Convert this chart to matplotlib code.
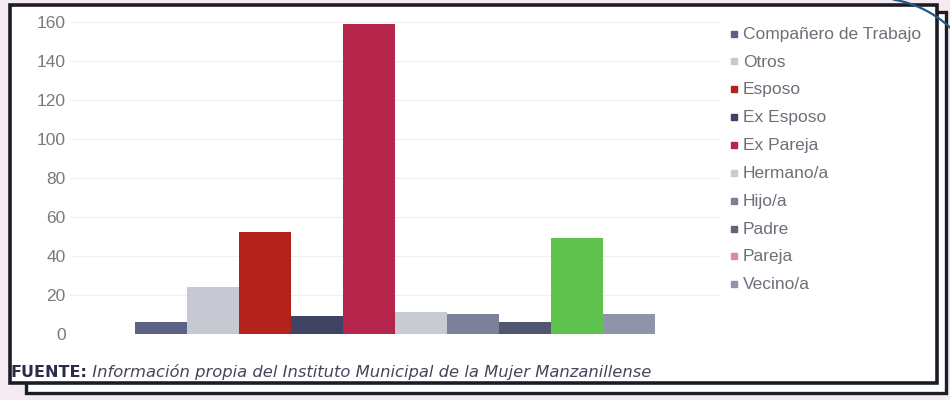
import matplotlib.pyplot as plt
from matplotlib.patches import Rectangle
from matplotlib.lines import Line2D
import numpy as np

# datos: agresor y numero de casos
categorias = ['Compañero de Trabajo', 'Otros', 'Esposo', 'Ex Esposo', 'Ex Pareja',
              'Hermano/a', 'Hijo/a', 'Padre', 'Pareja', 'Vecino/a']
casos = [6, 24, 52, 9, 159, 11, 10, 6, 49, 10]
colores = ['#5b6283', '#c6c9d2', '#b3221b', '#3f4464', '#b6254b',
           '#c9cbd4', '#7b8199', '#50566f', '#5fc24c', '#8e94a9']
# la leyenda original muestra Pareja en rosa
colores_leyenda = ['#5b6283', '#c6c9d2', '#b3221b', '#3f4464', '#b6254b',
                   '#c9cbd4', '#7b8199', '#5f6479', '#d98aa6', '#8e94a9']
yticks = [0, 20, 40, 60, 80, 100, 120, 140, 160]
fuente = 'FUENTE:'
fuente_txt = ' Información propia del Instituto Municipal de la Mujer Manzanillense'

W, H = 950, 400
fig = plt.figure(figsize=(W / 100, H / 100), dpi=100, facecolor='#f4eaef')

def fx(x):
    return x / W

def fy(y):
    return 1 - y / H

# marcos (sombra y principal)
shadow = Rectangle((fx(26), fy(393)), fx(946) - fx(26), fy(12) - fy(393),
                   transform=fig.transFigure, facecolor='white', edgecolor='#1c1c26',
                   linewidth=2.4, zorder=0)
main = Rectangle((fx(10), fy(383)), fx(937) - fx(10), fy(5) - fy(383),
                 transform=fig.transFigure, facecolor='white', edgecolor='#1c1c26',
                 linewidth=2.6, zorder=1)
fig.add_artist(shadow)
fig.add_artist(main)

# trazo azul del escaneo (esquina superior derecha)
t = np.linspace(np.radians(40), np.radians(80), 40)
arc = Line2D(fx(875 + 110 * np.cos(t)), fy(108 - 110 * np.sin(t)),
             transform=fig.transFigure, color='#1d5a8a', linewidth=1.6, zorder=2)
fig.add_artist(arc)

ax = fig.add_axes([fx(70), fy(333.5), fx(720) - fx(70), fy(22) - fy(333.5)])
ax.set_facecolor('none')
ax.set_zorder(3)

n = len(categorias)
ancho = 0.8 / n
for i, (c, v, col) in enumerate(zip(categorias, casos, colores)):
    ax.bar((i - (n - 1) / 2) * ancho, v, width=ancho, color=col, label=c, zorder=3)

ax.set_xlim(-0.5, 0.5)
ax.set_ylim(0, 160)
ax.set_yticks(yticks)
ax.set_xticks([])
ax.tick_params(axis='y', length=0, pad=3, labelsize=12.5, labelcolor='#7a7a7a')
for lab in ax.get_yticklabels():
    lab.set_fontfamily('Liberation Sans')
ax.grid(axis='y', color='#efefef', linewidth=0.8, zorder=0)
for s in ax.spines.values():
    s.set_visible(False)

handles = [Line2D([], [], marker='s', linestyle='none', markersize=4, color=c)
           for c in colores_leyenda]
leg = fig.legend(handles=handles, labels=categorias,
                 loc='upper left', bbox_to_anchor=(fx(722), fy(18)),
                 frameon=False, borderpad=0, handlelength=0.4, handleheight=0.3,
                 handletextpad=0.3, labelspacing=0.74,
                 prop={'family': 'Liberation Sans', 'size': 12.5})
leg.set_zorder(4)
for tx in leg.get_texts():
    tx.set_color('#6f6f7a')

b = fig.text(fx(10), fy(377), fuente, fontsize=11.5, fontweight='bold', color='#2a2c48',
             fontfamily='DejaVu Sans', va='baseline')
fig.canvas.draw()
bx = b.get_window_extent().x1 / W
fig.text(bx, fy(377), fuente_txt, fontsize=11.8, fontstyle='italic', color='#44465c',
         fontfamily='DejaVu Sans', va='baseline')

fig.savefig('out.png', dpi=100, facecolor=fig.get_facecolor())
